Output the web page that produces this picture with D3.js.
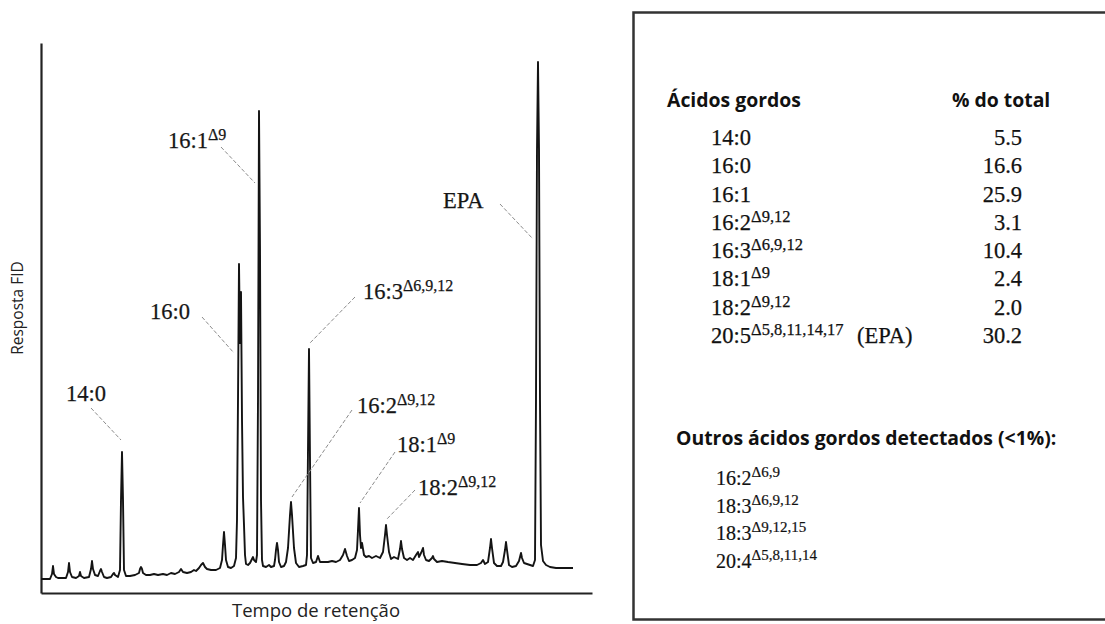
<!DOCTYPE html>
<html>
<head>
<meta charset="utf-8">
<script src="https://cdn.jsdelivr.net/npm/d3@7/dist/d3.min.js"></script>
<style>
  html, body { margin: 0; padding: 0; background: #fff; }
  svg { display: block; }
</style>
</head>
<body>
<svg id="chart" width="1105" height="624"></svg>
<script>
// Chromatogram trace: retention time (min) and FID response (arbitrary units)
const retentionTime = [
  0, 0.9, 1.1, 1.2, 1.3, 1.5, 1.7, 2.5, 2.7, 2.8, 2.9, 3.1, 3.5, 3.8, 3.9, 4.0, 4.3,
  4.8, 5.0, 5.1, 5.2, 5.4, 5.7, 5.9, 6.0, 6.1, 6.3, 6.6, 7.0, 7.2, 7.3, 7.4, 7.7,
  7.9, 8.0, 8.1, 8.2, 8.3, 8.5, 8.9, 9.4, 9.8, 9.9, 10.0, 10.1, 10.2, 10.5,
  10.9, 11.3, 11.7, 12.2, 12.6, 13.0, 13.4, 13.8, 14.0, 14.2, 14.6, 15.0, 15.3, 15.5,
  15.8, 16.0, 16.2, 16.4, 16.6, 17.0, 17.5, 17.9,
  18.1, 18.2, 18.3, 18.4, 18.5, 18.7, 19.0, 19.3,
  19.5, 19.6, 19.7, 19.8, 19.9, 20.0, 20.1, 20.2, 20.3, 20.4, 20.5, 20.7, 20.9, 21.1, 21.2, 21.3, 21.5,
  21.6, 21.7, 21.8, 21.9, 22.0, 22.1, 22.2, 22.5, 22.8, 23.0, 23.3,
  23.4, 23.5, 23.6, 23.7, 23.8, 24.0, 24.3,
  24.5, 24.7, 24.9, 25.0, 25.1, 25.3, 25.5, 25.8, 26.2, 26.5,
  26.6, 26.7, 26.8, 26.9, 27.0, 27.2, 27.5, 27.7, 27.9, 28.3,
  28.7, 29.1, 29.5, 29.9,
  30.2, 30.4, 30.6, 30.8, 31.1, 31.4,
  31.6, 31.7, 31.8, 31.9, 32.0, 32.1, 32.3, 32.5, 32.8, 33.1, 33.5, 33.9,
  34.2, 34.4, 34.5, 34.6, 34.8, 35.0, 35.3, 35.7,
  35.9, 36.0, 36.1, 36.3, 36.6, 36.9, 37.2,
  37.5, 37.7, 37.8, 38.0, 38.2, 38.3, 38.5, 38.8,
  39.1, 39.2, 39.3, 39.6, 40.1, 40.7, 41.4, 42.1, 42.9, 43.6,
  44.0, 44.2, 44.4,
  44.7, 44.9, 45.0, 45.1, 45.3, 45.6, 46.0,
  46.2, 46.4, 46.5, 46.6, 46.8, 47.1, 47.5,
  47.8, 48.0, 48.1, 48.3, 48.6, 48.9, 49.2, 49.4,
  49.5, 49.6, 49.7, 49.8, 49.9, 50.0, 50.2, 50.5, 50.9, 51.5, 52.5, 53.2
];
const response = [
  2.8, 2.8, 3.8, 5.4, 3.8, 3.2, 3.0, 3.0, 4.2, 6.0, 4.2, 3.2, 3.0, 3.4, 4.2, 3.4, 3.0,
  3.2, 4.8, 6.4, 4.8, 3.6, 3.4, 4.4, 4.8, 4.2, 3.2, 3.0, 3.2, 3.8, 4.0, 3.6, 3.2,
  4.6, 18.6, 28.2, 18.6, 4.6, 3.4, 3.4, 3.6, 4.0, 4.8, 5.2, 4.8, 4.0, 3.6,
  3.6, 3.8, 3.6, 3.8, 3.6, 4.0, 3.8, 4.2, 4.8, 4.2, 4.0, 4.2, 4.6, 4.4,
  5.0, 5.6, 6.0, 5.2, 4.8, 4.6, 4.6, 5.0,
  6.6, 9.6, 12.2, 9.6, 6.6, 5.2, 5.0, 5.4,
  7.0, 14.6, 38.6, 65.8, 50.0, 60.2, 34.6, 19.2, 13.6, 7.6, 5.8, 5.6, 6.0, 6.8, 7.2, 6.6, 6.2,
  7.6, 38.6, 96.4, 68.6, 18.6, 6.6, 5.4, 5.2, 5.6, 5.2, 5.4,
  6.6, 8.6, 10.0, 8.6, 6.2, 5.2, 5.4,
  6.2, 9.0, 15.6, 18.2, 15.6, 9.0, 6.0, 5.2, 5.4, 5.6,
  7.6, 28.6, 48.8, 26.6, 7.0, 6.0, 6.2, 7.4, 6.2, 6.2,
  6.2, 6.4, 6.2, 6.6,
  7.6, 8.8, 7.4, 6.4, 6.6, 7.0,
  8.6, 12.6, 17.0, 11.6, 9.0, 10.0, 7.6, 7.2, 7.4, 7.0, 7.4, 7.0,
  8.2, 11.6, 13.6, 11.6, 8.2, 6.8, 7.2, 6.8,
  8.8, 10.4, 8.8, 7.0, 6.6, 7.0, 6.6,
  7.6, 8.2, 7.2, 8.0, 9.0, 7.6, 6.6, 6.4,
  7.0, 7.4, 6.8, 6.2, 6.4, 6.2, 6.0, 5.8, 5.6, 5.6,
  6.0, 6.6, 5.8,
  6.2, 9.0, 10.8, 9.0, 6.0, 5.4, 5.4,
  6.2, 8.6, 10.2, 8.6, 5.6, 5.2, 5.4,
  6.4, 8.0, 7.0, 6.0, 5.8, 5.6, 5.4, 6.6,
  38.6, 88.6, 106.2, 88.6, 38.6, 9.6, 6.4, 5.6, 5.2, 5.0, 5.0, 5.0
];

// Identified peaks on the chromatogram
const peakNames = ["14:0", "16:0", "16:1", "16:2", "16:3", "18:1", "18:2", "EPA"];
const peakSup   = ["", "", "Δ9", "Δ9,12", "Δ6,9,12", "Δ9", "Δ9,12", ""];

// Fatty acid composition table
const acidNames   = ["14:0", "16:0", "16:1", "16:2", "16:3", "18:1", "18:2", "20:5"];
const acidSup     = ["", "", "", "Δ9,12", "Δ6,9,12", "Δ9", "Δ9,12", "Δ5,8,11,14,17"];
const acidNote    = ["", "", "", "", "", "", "", "(EPA)"];
const percentTotal = [5.5, 16.6, 25.9, 3.1, 10.4, 2.4, 2.0, 30.2];

// Minor fatty acids (<1%)
const minorNames = ["16:2", "18:3", "18:3", "20:4"];
const minorSup   = ["Δ6,9", "Δ6,9,12", "Δ9,12,15", "Δ5,8,11,14"];

const serif = "'Liberation Serif', 'Times New Roman', serif";
const sans = "'Open Sans', 'Lato', sans-serif";

const svg = d3.select("#chart");

// ---- Chromatogram panel ----
const x = d3.scaleLinear().domain([0, 55.1]).range([41, 592]);
const y = d3.scaleLinear().domain([0, 110]).range([593, 43]);

svg.append("g")
  .attr("transform", `translate(0,${y(0)})`)
  .call(d3.axisBottom(x).tickValues([]).tickSizeOuter(0))
  .call(g => g.select(".domain").attr("stroke", "#222").attr("stroke-width", 2.2));

svg.append("g")
  .attr("transform", `translate(${x(0)},0)`)
  .call(d3.axisLeft(y).tickValues([]).tickSizeOuter(0))
  .call(g => g.select(".domain").attr("stroke", "#222").attr("stroke-width", 2.2));

const trace = retentionTime.map((t, i) => [t, response[i]]);
svg.append("path")
  .datum(trace)
  .attr("fill", "none")
  .attr("stroke", "#141414")
  .attr("stroke-width", 1.9)
  .attr("stroke-linejoin", "round")
  .attr("d", d3.line().x(d => x(d[0])).y(d => y(d[1])));

// label anchor (time, response) and leader line ends, per peak
const labelLayout = [
  { tx: 2.5,  ty: 38.4, l: [5.0, 37.0, 8.0, 30.6] },
  { tx: 10.9, ty: 54.8, l: [16.1, 55.2, 19.3, 48.0] },
  { tx: 12.7, ty: 89.0, l: [18.0, 89.2, 21.4, 82.0] },
  { tx: 31.6, ty: 36.0, l: [31.1, 36.6, 25.1, 19.2] },
  { tx: 32.2, ty: 58.8, l: [31.4, 59.2, 26.9, 50.0] },
  { tx: 35.6, ty: 28.2, l: [35.4, 28.2, 31.9, 18.0] },
  { tx: 37.7, ty: 19.6, l: [37.4, 20.6, 34.5, 14.6] },
  { tx: 40.2, ty: 77.0, l: [45.9, 77.8, 49.2, 70.8] }
];

const labels = svg.append("g");
peakNames.forEach((name, i) => {
  const lay = labelLayout[i];
  labels.append("line")
    .attr("x1", x(lay.l[0])).attr("y1", y(lay.l[1]))
    .attr("x2", x(lay.l[2])).attr("y2", y(lay.l[3]))
    .attr("stroke", "#8c8c8c").attr("stroke-width", 1)
    .attr("stroke-dasharray", "4,2");
  const t = labels.append("text")
    .attr("x", x(lay.tx)).attr("y", y(lay.ty))
    .attr("font-family", serif).attr("font-size", 22.5)
    .attr("fill", "#161616").attr("stroke", "#161616").attr("stroke-width", 0.25);
  t.append("tspan").text(name);
  if (peakSup[i]) {
    t.append("tspan").attr("dy", -8).attr("font-size", 16).text(peakSup[i]);
  }
});

svg.append("text")
  .attr("transform", "translate(23,308) rotate(-90)")
  .attr("text-anchor", "middle")
  .attr("font-family", sans).attr("font-size", 15.5)
  .attr("fill", "#222")
  .text("Resposta FID");

svg.append("text")
  .attr("x", 232).attr("y", 617)
  .attr("font-family", sans).attr("font-size", 18.5)
  .attr("fill", "#222")
  .text("Tempo de retenção");

// ---- Composition table panel ----
svg.append("rect")
  .attr("x", 633.5).attr("y", 12.5)
  .attr("width", 490).attr("height", 607)
  .attr("fill", "none").attr("stroke", "#333").attr("stroke-width", 2.5);

svg.append("text")
  .attr("x", 667).attr("y", 107)
  .attr("font-family", sans).attr("font-weight", 700).attr("font-size", 19.4)
  .attr("fill", "#111")
  .text("Ácidos gordos");

svg.append("text")
  .attr("x", 952).attr("y", 107)
  .attr("font-family", sans).attr("font-weight", 700).attr("font-size", 19.4)
  .attr("fill", "#111")
  .text("% do total");

const rowY = d3.scaleLinear().domain([0, acidNames.length - 1]).range([145, 343]);
const fmt = d3.format(".1f");

const rows = svg.append("g")
  .attr("font-family", serif).attr("fill", "#111")
  .attr("stroke", "#111").attr("stroke-width", 0.25);
acidNames.forEach((name, i) => {
  const t = rows.append("text")
    .attr("x", 711).attr("y", rowY(i))
    .attr("font-size", 22.5);
  t.append("tspan").text(name);
  if (acidSup[i]) {
    t.append("tspan").attr("dy", -8).attr("font-size", 16.5).text(acidSup[i]);
  }
  if (acidNote[i]) {
    rows.append("text")
      .attr("x", 857).attr("y", rowY(i))
      .attr("font-size", 22.5)
      .text(acidNote[i]);
  }
  rows.append("text")
    .attr("x", 1022).attr("y", rowY(i))
    .attr("text-anchor", "end")
    .attr("font-size", 22.5)
    .text(fmt(percentTotal[i]));
});

svg.append("text")
  .attr("x", 676).attr("y", 445)
  .attr("font-family", sans).attr("font-weight", 700).attr("font-size", 19.4)
  .attr("fill", "#111")
  .text("Outros ácidos gordos detectados (<1%):");

const minorY = d3.scaleLinear().domain([0, minorNames.length - 1]).range([485, 568]);
const minor = svg.append("g")
  .attr("font-family", serif).attr("fill", "#111")
  .attr("stroke", "#111").attr("stroke-width", 0.2);
minorNames.forEach((name, i) => {
  const t = minor.append("text")
    .attr("x", 716).attr("y", minorY(i))
    .attr("font-size", 20);
  t.append("tspan").text(name);
  t.append("tspan").attr("dy", -8).attr("font-size", 15).text(minorSup[i]);
});
</script>
</body>
</html>
